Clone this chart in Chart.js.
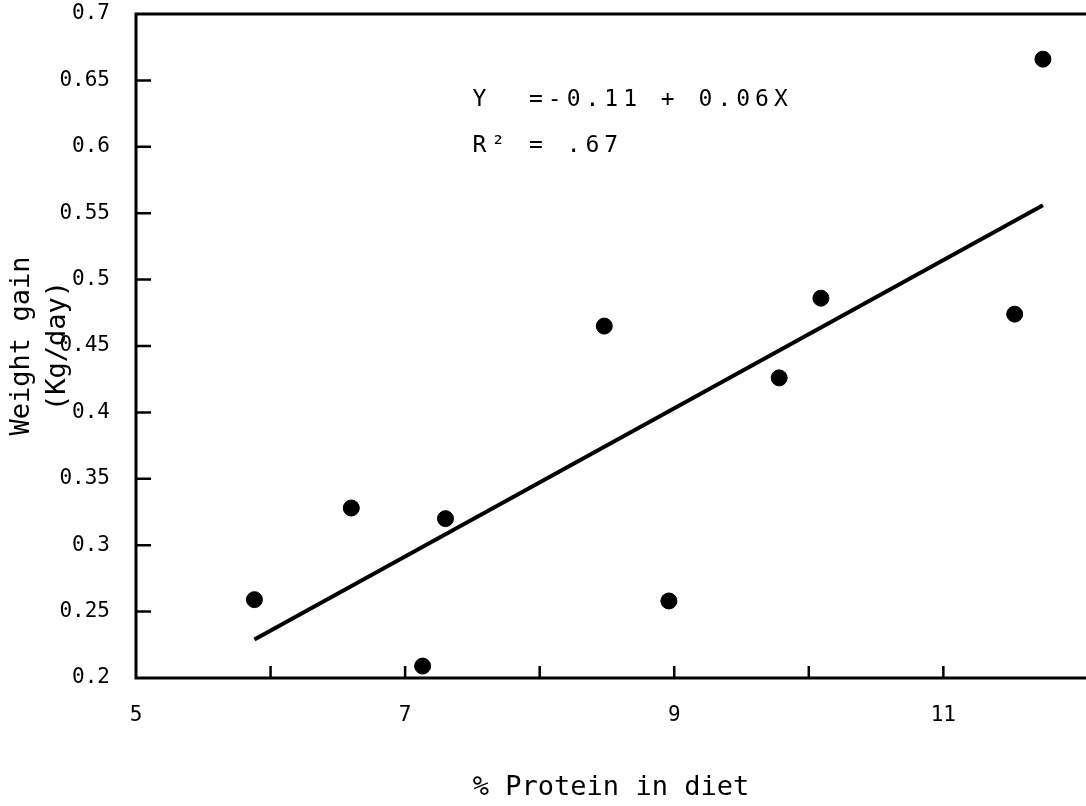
<!DOCTYPE html>
<html>
<head>
<meta charset="utf-8">
<script src="https://cdn.jsdelivr.net/npm/chart.js@4.4.0/dist/chart.umd.min.js"></script>
<style>
    html, body { margin: 0; padding: 0; background: #fff; }
    #wrap { width: 1086px; height: 806px; }
</style>
</head>
<body>
<div id="wrap"><canvas id="chart"></canvas></div>
<script>
// Data
const proteinPct = [5.88, 6.6, 7.13, 7.3, 8.48, 8.96, 9.78, 10.09, 11.53, 11.74];
const weightGain = [0.259, 0.328, 0.209, 0.32, 0.465, 0.258, 0.426, 0.486, 0.474, 0.666];
const fitX = [5.88, 11.74];
const fitY = [0.229, 0.556];
const xTickLabels = [5, 7, 9, 11];
const equationLines = ['Y  =-0.11 + 0.06X', 'R\u00b2 = .67'];

const MONO = '"DejaVu Sans Mono", "Liberation Mono", monospace';

// Frame, inward tick marks and the regression equation
const frameAndTicks = {
    id: 'frameAndTicks',
    afterDraw(chart) {
        const { ctx, chartArea: a, scales: { x, y } } = chart;
        ctx.save();
        ctx.strokeStyle = '#000';
        ctx.lineWidth = 3;
        ctx.beginPath();
        ctx.moveTo(a.right, a.top);
        ctx.lineTo(a.left, a.top);
        ctx.lineTo(a.left, a.bottom);
        ctx.lineTo(a.right, a.bottom);
        ctx.stroke();

        ctx.lineWidth = 2.5;
        ctx.beginPath();
        y.ticks.forEach(t => {
            const py = y.getPixelForValue(t.value);
            if (py > a.top + 2 && py < a.bottom - 2) {
                ctx.moveTo(a.left, py);
                ctx.lineTo(a.left + 15, py);
            }
        });
        x.ticks.forEach(t => {
            const px = x.getPixelForValue(t.value);
            if (px > a.left + 2 && px < a.right - 10) {
                ctx.moveTo(px, a.bottom);
                ctx.lineTo(px, a.bottom - 12);
            }
        });
        ctx.stroke();

        ctx.fillStyle = '#000';
        ctx.font = '23px ' + MONO;
        ctx.letterSpacing = '5px';
        ctx.textAlign = 'left';
        ctx.textBaseline = 'alphabetic';
        ctx.fillText(equationLines[0], x.getPixelForValue(7.5), y.getPixelForValue(0.6307));
        ctx.fillText(equationLines[1], x.getPixelForValue(7.5), y.getPixelForValue(0.596));
        ctx.letterSpacing = '0px';
        ctx.restore();
    }
};

function renderChart() {
    const ctx = document.getElementById('chart').getContext('2d');
    new Chart(ctx, {
        type: 'scatter',
        data: {
            datasets: [{
                label: 'Observed',
                data: proteinPct.map((v, i) => ({ x: v, y: weightGain[i] })),
                backgroundColor: '#000',
                borderColor: '#000',
                pointRadius: 8,
                pointHoverRadius: 8,
                clip: false
            }, {
                label: 'Fit',
                type: 'line',
                data: fitX.map((v, i) => ({ x: v, y: fitY[i] })),
                borderColor: '#000',
                borderWidth: 4,
                pointRadius: 0,
                fill: false
            }]
        },
        options: {
            responsive: true,
            maintainAspectRatio: false,
            animation: false,
            layout: { autoPadding: false, padding: { top: 14, right: 0, left: 0, bottom: 0 } },
            plugins: {
                legend: { display: false },
                tooltip: { enabled: false }
            },
            scales: {
                x: {
                    type: 'linear',
                    min: 5,
                    max: 12.06,
                    grid: { display: false },
                    border: { display: false },
                    ticks: {
                        stepSize: 1,
                        padding: 17,
                        color: '#000',
                        font: { family: MONO, size: 21 },
                        maxRotation: 0,
                        callback: v => xTickLabels.includes(v) ? String(v) : ''
                    },
                    title: {
                        display: true,
                        text: '% Protein in diet',
                        color: '#000',
                        font: { family: MONO, size: 27 },
                        padding: { top: 0, bottom: 2 }
                    },
                    afterFit: s => {
                        s.height = 128;
                        s.paddingLeft = 0;
                        s.paddingRight = 0;
                    }
                },
                y: {
                    min: 0.2,
                    max: 0.7,
                    grid: { display: false },
                    border: { display: false },
                    ticks: {
                        stepSize: 0.05,
                        padding: 18,
                        color: '#000',
                        font: { family: MONO, size: 21 },
                        callback: v => String(parseFloat(v.toFixed(2)))
                    },
                    title: {
                        display: true,
                        text: ['Weight gain', '(Kg/day)'],
                        color: '#000',
                        font: { family: MONO, size: 27, lineHeight: 1.33 },
                        padding: { top: 4, bottom: 0 }
                    },
                    afterFit: s => {
                        s.width = 136;
                        s.paddingTop = 0;
                        s.paddingBottom = 0;
                    }
                }
            }
        },
        plugins: [frameAndTicks]
    });
}

renderChart();
</script>
</body>
</html>
